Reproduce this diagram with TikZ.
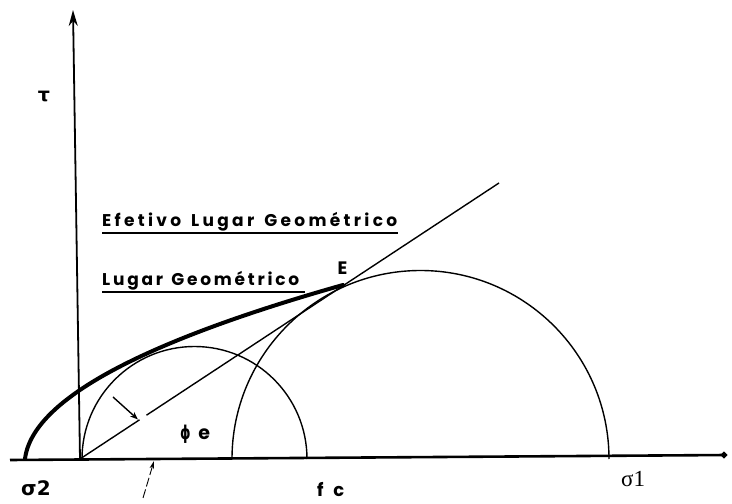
\documentclass[tikz,border=0pt]{standalone}
\usepackage{fontspec}
\usetikzlibrary{arrows.meta}
\newfontfamily\lblfont{Poppins}
\newfontfamily\grkfont{DejaVu Sans}
\newfontfamily\serfont{Liberation Serif}
\newcommand\gp{\hfil}
\begin{document}
\begin{tikzpicture}[x=1pt,y=1pt,
  haxis/.style={line width=2.6pt},
  vaxis/.style={line width=1.8pt},
  thinline/.style={line width=1.4pt},
  envelope/.style={line width=4pt, line cap=round},
  uline/.style={line width=1.5pt},
  lbl/.style={font=\lblfont\bfseries\fontsize{17}{17}\selectfont, inner sep=0pt},
  grk/.style={font=\grkfont\bfseries\fontsize{20}{20}\selectfont, inner sep=0pt},
  ser/.style={font=\serfont\fontsize{23}{23}\selectfont, inner sep=0pt}]
\useasboundingbox (0,0) rectangle (732,504);
% key points
\coordinate (O) at (80,45);
\coordinate (hL) at (10,44);
\coordinate (hR) at (727,49);
\coordinate (vT) at (73,494);
\coordinate (c1L) at (82,45);
\coordinate (c2L) at (232,45);
\coordinate (T) at (499,321);
\coordinate (g1) at (139.5,84.2);
\coordinate (g2) at (146.5,88.8);
% axes
\draw[haxis, -{Circle[length=6pt]}] (hL) -- (hR);
\draw[vaxis, -{Stealth[length=16pt,width=9pt]}] (O) -- (vT);
% Mohr circles
\draw[thinline] (c1L) arc[start angle=180, end angle=0, radius=112.5];
\draw[thinline] (c2L) arc[start angle=180, end angle=0, radius=188.5];
% straight line from origin through E
\draw[thinline] (O) -- (g1);
\draw[thinline] (g2) -- (T);
% envelope (effective locus)
\draw[envelope] plot[domain=0:174, samples=70, variable=\t] ({25+0.009814*\t*\t+0.12*\t},{45+\t});
% angle arrow
\coordinate (aS) at (113,107);
\coordinate (aE) at (138,84.5);
\draw[thinline, -{Stealth[length=8pt,width=6pt]}] (aS) -- (aE);
% arrow under axis
\coordinate (bS) at (143,6);
\coordinate (bE) at (154,43);
\draw[line width=0.9pt, dash pattern=on 9pt off 3pt, -{Stealth[length=8pt,width=4.5pt]}] (bS) -- (bE);
% labels
\node[grk, font=\grkfont\bfseries\fontsize{19}{19}\selectfont, anchor=base] (tau) at (44,402.5) {τ};
\node[grk, anchor=base west] (s2) at (21,9) {σ2};
\node[ser, anchor=base west] (s1) at (621,17) {σ1};
\node[lbl, font=\lblfont\bfseries\fontsize{18}{18}\selectfont, anchor=base west] (fc) at (317,7) {\hbox to 27pt{f\hfil c}};
\node[lbl, font=\lblfont\bfseries\fontsize{19}{19}\selectfont, anchor=base west] (phie) at (180,64) {\hbox to 30pt{{\grkfont\bfseries\scalebox{0.7}[1]{ϕ}}\hfil e}};
\node[lbl, font=\lblfont\bfseries\fontsize{18}{18}\selectfont, anchor=base west] (E) at (337.5,229) {E};
\node[lbl, anchor=base west] (eff) at (102,277.3) {\hbox to 295pt{E\gp f\gp e\gp t\gp i\gp v\gp o\gp\gp\gp L\gp u\gp g\gp a\gp r\gp\gp\gp G\gp e\gp o\gp m\gp é\gp t\gp r\gp i\gp c\gp o}};
\node[lbl, anchor=base west] (lg) at (102,218.5) {\hbox to 197pt{L\gp u\gp g\gp a\gp r\gp\gp\gp G\gp e\gp o\gp m\gp é\gp t\gp r\gp i\gp c\gp o}};
\coordinate (u1a) at (102,271);
\coordinate (u1b) at (398,271);
\coordinate (u2a) at (102,212);
\coordinate (u2b) at (305,212);
\draw[uline] (u1a) -- (u1b);
\draw[uline] (u2a) -- (u2b);
\end{tikzpicture}
\end{document}
